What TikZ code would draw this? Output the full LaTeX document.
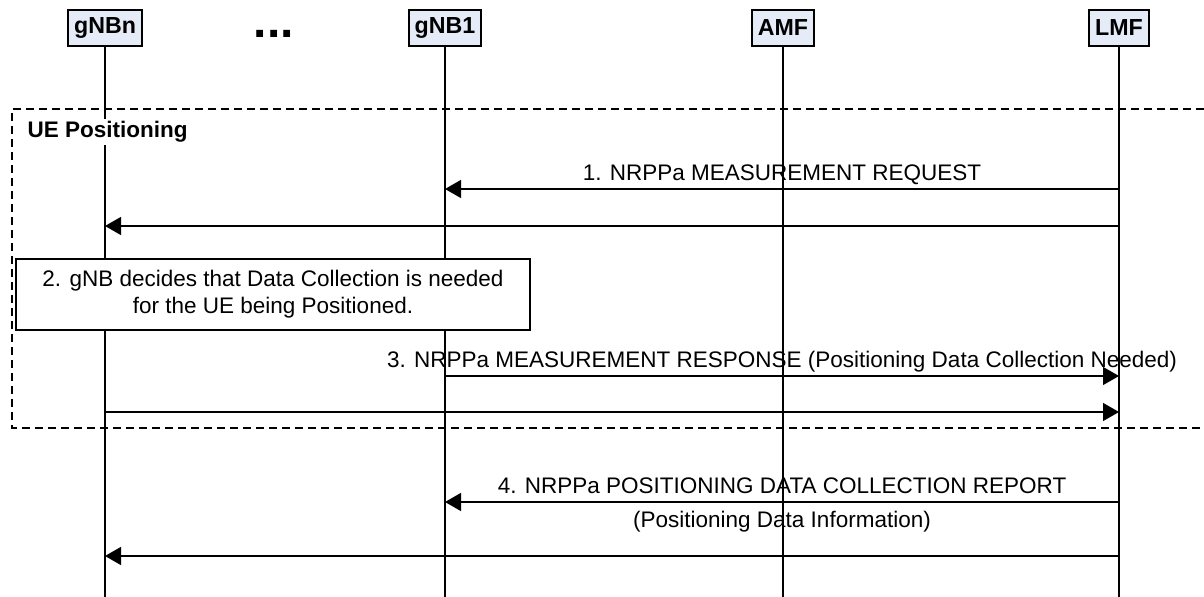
\documentclass[tikz,border=0pt]{standalone}
\usepackage{fontspec}
\setmainfont{Liberation Sans}
\usetikzlibrary{arrows.meta}
\definecolor{hdrfill}{HTML}{E6ECF7}

\begin{document}
\begin{tikzpicture}[x=0.5pt,y=-0.5pt,line width=0.65pt,
  every node/.style={font=\fontsize{11.25}{13.5}\selectfont},
  entity/.style={draw, line width=0.9pt, fill=hdrfill, minimum height=18pt, inner xsep=3pt,
    font=\fontsize{11.6}{13}\selectfont\bfseries},
  msg/.style={-{Triangle[length=8pt,width=9pt]}},
  lbl/.style={midway, anchor=base, yshift=4pt},
  frame/.style={dash pattern=on 4pt off 2.5pt}]
  \useasboundingbox (0,0) rectangle (1204,597);
  % entities
  \node[entity] (gnbn) at (105,28) {gNBn};
  \node[anchor=base, font=\fontsize{24}{24}\selectfont\bfseries] (dots) at (274,38) {...};
  \node[entity] (gnb1) at (445,28) {gNB1};
  \node[entity] (amf) at (783,28) {AMF};
  \node[entity] (lmf) at (1119,28) {LMF};
  % lifelines
  \coordinate (bot) at (0,597);
  \foreach \n in {gnbn,gnb1,amf,lmf}
    \draw (\n.south) -- (\n.south |- bot);
  % UE positioning frame, open to the right
  \coordinate (ftl) at (12,109);
  \coordinate (fbl) at (12,428);
  \coordinate (ftr) at (1204,109);
  \coordinate (fbr) at (1204,428);
  \draw[frame] (ftr) -- (ftl) -- (fbl) -- (fbr);
  \node[anchor=west, fill=white, inner sep=1pt, font=\fontsize{11.25}{13.5}\selectfont\bfseries] (uepos) at (25,132) {UE Positioning};
  % step 1
  \coordinate (m1) at (0,189);
  \coordinate (m1b) at (0,226);
  \draw[msg] (lmf |- m1) -- (gnb1 |- m1) node[lbl] {1. NRPPa MEASUREMENT REQUEST};
  \draw[msg] (lmf |- m1b) -- (gnbn |- m1b);
  % step 2
  \node[draw, fill=white, minimum width=257pt, minimum height=35.5pt, align=center] (decide) at (273,294.5)
    {2. gNB decides that Data Collection is needed\\for the UE being Positioned.};
  % step 3
  \coordinate (m3) at (0,376);
  \coordinate (m3b) at (0,412);
  \draw[msg] (gnb1 |- m3) -- (lmf |- m3) node[lbl] {3. NRPPa MEASUREMENT RESPONSE (Positioning Data Collection Needed)};
  \draw[msg] (gnbn |- m3b) -- (lmf |- m3b);
  % step 4
  \coordinate (m4) at (0,502);
  \coordinate (m4b) at (0,556);
  \draw[msg] (lmf |- m4) -- (gnb1 |- m4) node[lbl] {4. NRPPa POSITIONING DATA COLLECTION REPORT}
    node[midway, anchor=base, yshift=-13pt] {(Positioning Data Information)};
  \draw[msg] (lmf |- m4b) -- (gnbn |- m4b);
\end{tikzpicture}
\end{document}
